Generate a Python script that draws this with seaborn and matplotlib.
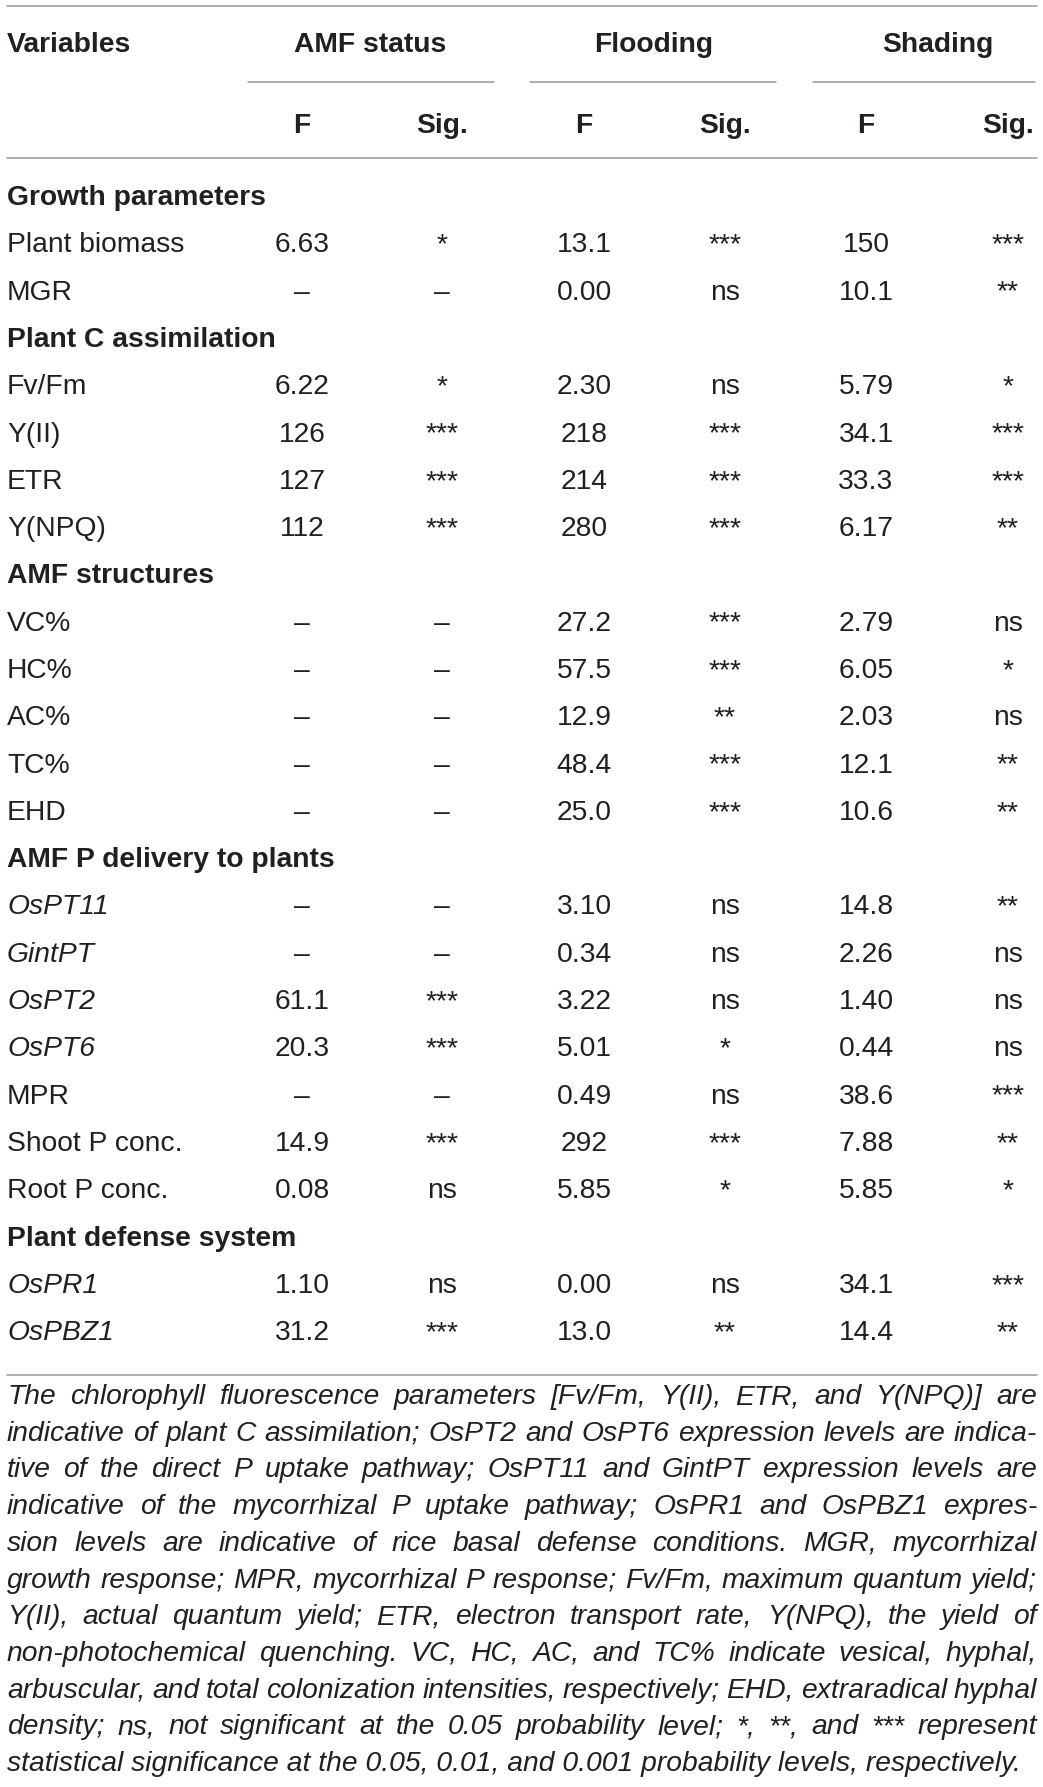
import matplotlib
matplotlib.use("Agg")
import matplotlib.pyplot as plt
import seaborn as sns

sns.set_theme(style="white")
plt.rcParams["font.family"] = ["Liberation Sans", "DejaVu Sans"]

# data
groups = ["AMF status", "Flooding", "Shading"]
sections = ["Growth parameters", "Plant C assimilation", "AMF structures",
            "AMF P delivery to plants", "Plant defense system"]
section_sizes = [2, 4, 5, 7, 2]
variables = ["Plant biomass", "MGR", "Fv/Fm", "Y(II)", "ETR", "Y(NPQ)",
             "VC%", "HC%", "AC%", "TC%", "EHD",
             "OsPT11", "GintPT", "OsPT2", "OsPT6", "MPR", "Shoot P conc.", "Root P conc.",
             "OsPR1", "OsPBZ1"]
italic_vars = ["OsPT11", "GintPT", "OsPT2", "OsPT6", "OsPR1", "OsPBZ1"]
amf_f = ["6.63", "–", "6.22", "126", "127", "112", "–", "–", "–", "–", "–",
         "–", "–", "61.1", "20.3", "–", "14.9", "0.08", "1.10", "31.2"]
amf_sig = ["*", "–", "*", "***", "***", "***", "–", "–", "–", "–", "–",
           "–", "–", "***", "***", "–", "***", "ns", "ns", "***"]
flood_f = ["13.1", "0.00", "2.30", "218", "214", "280", "27.2", "57.5", "12.9", "48.4", "25.0",
           "3.10", "0.34", "3.22", "5.01", "0.49", "292", "5.85", "0.00", "13.0"]
flood_sig = ["***", "ns", "ns", "***", "***", "***", "***", "***", "**", "***", "***",
             "ns", "ns", "ns", "*", "ns", "***", "*", "ns", "**"]
shade_f = ["150", "10.1", "5.79", "34.1", "33.3", "6.17", "2.79", "6.05", "2.03", "12.1", "10.6",
           "14.8", "2.26", "1.40", "0.44", "38.6", "7.88", "5.85", "34.1", "14.4"]
shade_sig = ["***", "**", "*", "***", "***", "**", "ns", "*", "ns", "**", "**",
             "**", "ns", "ns", "ns", "***", "**", "*", "***", "**"]

footnote = [
    "The chlorophyll fluorescence parameters [Fv/Fm, Y(II), ETR, and Y(NPQ)] are",
    "indicative of plant C assimilation; OsPT2 and OsPT6 expression levels are indica-",
    "tive of the direct P uptake pathway; OsPT11 and GintPT expression levels are",
    "indicative of the mycorrhizal P uptake pathway; OsPR1 and OsPBZ1 expres-",
    "sion levels are indicative of rice basal defense conditions. MGR, mycorrhizal",
    "growth response; MPR, mycorrhizal P response; Fv/Fm, maximum quantum yield;",
    "Y(II), actual quantum yield; ETR, electron transport rate, Y(NPQ), the yield of",
    "non-photochemical quenching. VC, HC, AC, and TC% indicate vesical, hyphal,",
    "arbuscular, and total colonization intensities, respectively; EHD, extraradical hyphal",
    "density; ns, not significant at the 0.05 probability level; *, **, and *** represent",
    "statistical significance at the 0.05, 0.01, and 0.001 probability levels, respectively.",
]

# figure in pixel units
W, H = 1043, 1787
fig = plt.figure(figsize=(W / 100, H / 100), dpi=100)
ax = fig.add_axes([0, 0, 1, 1])
ax.set_xlim(0, W)
ax.set_ylim(H, 0)
ax.axis("off")

ink = "#231f20"
rule = "#9a9a9a"
fs = 20.3
left, right = 7, 1037

col_x = [302, 442, 584, 725, 866, 1008]
group_x = [370, 654, 938]
group_spans = [(248, 494), (530, 776), (813, 1035)]

# rules
ax.plot([left, right], [6, 6], color=rule, lw=1.1)
ax.plot([left, right], [158, 158], color=rule, lw=1.1)
for a, b in group_spans:
    ax.plot([a, b], [82, 82], color=rule, lw=1.1)

# header
ax.text(left, 52, "Variables", fontsize=fs, fontweight="bold", color=ink, va="baseline")
for g, gx in zip(groups, group_x):
    ax.text(gx, 52, g, fontsize=fs, fontweight="bold", color=ink, ha="center", va="baseline")
for i, cx in enumerate(col_x):
    ax.text(cx, 133, "F" if i % 2 == 0 else "Sig.", fontsize=fs, fontweight="bold",
            color=ink, ha="center", va="baseline")

# body
pitch = 47.3
base0 = 205
row = 0
v = 0
for sec, n in zip(sections, section_sizes):
    y = base0 + row * pitch
    ax.text(left, y, sec, fontsize=fs, fontweight="bold", color=ink, va="baseline")
    row += 1
    for _ in range(n):
        y = base0 + row * pitch
        name = variables[v]
        ax.text(left, y, name, fontsize=fs, color=ink, va="baseline",
                style="italic" if name in italic_vars else "normal")
        vals = [amf_f[v], amf_sig[v], flood_f[v], flood_sig[v], shade_f[v], shade_sig[v]]
        for cx, s in zip(col_x, vals):
            ax.text(cx, y, s, fontsize=fs, color=ink, ha="center", va="baseline")
        row += 1
        v += 1

bottom_rule = base0 + (row - 1) * pitch + 35
ax.plot([left, right], [bottom_rule, bottom_rule], color=rule, lw=1.1)

# footnote, justified
renderer = fig.canvas.get_renderer()
fn_fs = 20.3
fn_base = 1404
fn_pitch = 36.7
for k, line in enumerate(footnote):
    y = fn_base + k * fn_pitch
    if k == len(footnote) - 1:
        ax.text(left, y, line, fontsize=fn_fs, style="italic", color=ink, va="baseline")
        continue
    words = line.split(" ")
    arts = [ax.text(0, y, w, fontsize=fn_fs, style="italic", color=ink, va="baseline") for w in words]
    widths = [a.get_window_extent(renderer).width for a in arts]
    gap = (right - left - sum(widths)) / (len(words) - 1)
    x = left
    for a, w in zip(arts, widths):
        a.set_x(x)
        x += w + gap

fig.savefig("out.png", dpi=100)
